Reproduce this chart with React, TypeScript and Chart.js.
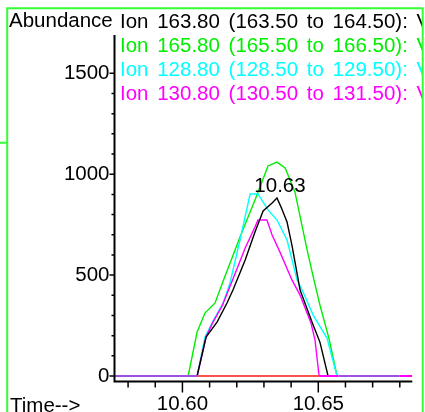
import React, { useEffect, useRef } from 'react';
import { Chart, registerables } from 'chart.js';

Chart.register(...registerables);

// ---- data (retention time in minutes, abundance) ----
const blackTimes = [10.6054, 10.6087, 10.6128, 10.6164, 10.6186, 10.6231, 10.6267, 10.6297, 10.633, 10.6348, 10.6363, 10.6385, 10.6403, 10.6433, 10.6481, 10.6506, 10.6536];
const blackAbund = [0, 193, 268, 362, 426, 575, 714, 818, 857, 882, 837, 763, 649, 426, 253, 168, 0];

const greenTimes = [10.6021, 10.6054, 10.6083, 10.612, 10.615, 10.6212, 10.6267, 10.6315, 10.6348, 10.6378, 10.6414, 10.6459, 10.6484, 10.6506, 10.6539, 10.6569];
const greenAbund = [0, 218, 312, 362, 471, 689, 872, 1041, 1060, 1031, 912, 624, 476, 352, 188, 0];

const cyanTimes = [10.6054, 10.6083, 10.6113, 10.615, 10.6175, 10.6212, 10.6249, 10.6278, 10.6315, 10.6348, 10.6385, 10.6422, 10.6444, 10.6481, 10.6532, 10.6569];
const cyanAbund = [0, 193, 273, 362, 461, 674, 902, 902, 823, 773, 674, 476, 416, 302, 188, 0];

const magentaTimes = [10.6054, 10.6087, 10.6113, 10.6146, 10.6183, 10.6231, 10.6267, 10.6278, 10.6311, 10.633, 10.6359, 10.6403, 10.6433, 10.6473, 10.6488, 10.6503];
const magentaAbund = [0, 193, 268, 347, 471, 634, 738, 773, 773, 699, 614, 476, 401, 263, 178, 0];

// zero-line segments (start time, end time) and their colours
const baseStarts = [10.575, 10.6054, 10.6503, 10.6574, 10.68];
const baseEnds = [10.6054, 10.6503, 10.6574, 10.68, 10.6846];
const baseColors = ['#a050e0', '#ff5050', '#ff00ff', '#a050e0', '#ff00ff'];

const legendLabels = [
  'Ion 163.80 (163.50 to 164.50): V',
  'Ion 165.80 (165.50 to 166.50): V',
  'Ion 128.80 (128.50 to 129.50): V',
  'Ion 130.80 (130.50 to 131.50): V',
];
const legendColors = ['#000000', '#00ee00', '#00ffff', '#ff00ff'];

const xTickValues = [10.58, 10.59, 10.6, 10.61, 10.62, 10.63, 10.64, 10.65, 10.66, 10.67, 10.68];
const xTickLabels = ['10.60', '10.65'];
const yTickValues = [0, 100, 200, 300, 400, 500, 600, 700, 800, 900, 1000, 1100, 1200, 1300, 1400, 1500];
const yTickLabels = ['0', '500', '1000', '1500'];
const peakLabel = '10.63';

const FONT = "'Liberation Sans', Arial, sans-serif";
const FONT_SIZE = 20.5;
const BORDER_GREEN = '#33ff33';

const toXY = (t: number[], a: number[]) => t.map((x, i) => ({ x, y: a[i] }));

const decor = {
  id: 'decor',
  afterDraw(chart: any) {
    const ctx: CanvasRenderingContext2D = chart.ctx;
    const { left, right, top, bottom } = chart.chartArea;
    const xs = chart.scales.x;
    const ys = chart.scales.y;
    ctx.save();
    ctx.strokeStyle = '#000';
    ctx.lineWidth = 2;
    ctx.beginPath();
    ctx.moveTo(left, top);
    ctx.lineTo(left, bottom);
    ctx.lineTo(right, bottom);
    ctx.stroke();
    ctx.lineWidth = 1.5;
    ctx.beginPath();
    yTickValues.forEach((v) => {
      const p = ys.getPixelForValue(v);
      const len = yTickLabels.includes(String(v)) ? 5 : 3;
      ctx.moveTo(left - len, p);
      ctx.lineTo(left, p);
    });
    xTickValues.forEach((v) => {
      const p = xs.getPixelForValue(v);
      const len = xTickLabels.includes(v.toFixed(2)) ? 11 : 6;
      ctx.moveTo(p, bottom);
      ctx.lineTo(p, bottom + len);
    });
    ctx.stroke();

    // texts
    ctx.font = `${FONT_SIZE}px ${FONT}`;
    ctx.textBaseline = 'alphabetic';
    ctx.textAlign = 'left';
    ctx.fillStyle = '#000';
    ctx.fillText('Abundance', 9, 27);
    ctx.fillText('Time-->', 10, 412);

    ctx.save();
    ctx.beginPath();
    ctx.rect(0, 0, 422, 412);
    ctx.clip();
    (ctx as any).wordSpacing = '3px';
    legendLabels.forEach((s, i) => {
      ctx.fillStyle = legendColors[i];
      ctx.fillText(s, 120, 27.5 + i * 24.3);
    });
    (ctx as any).wordSpacing = '0px';
    ctx.restore();

    // peak annotation at the black trace maximum
    let mi = 0;
    blackAbund.forEach((v, i) => { if (v > blackAbund[mi]) mi = i; });
    const px = xs.getPixelForValue(blackTimes[mi]);
    const py = ys.getPixelForValue(blackAbund[mi]);
    ctx.fillStyle = '#000';
    ctx.textAlign = 'center';
    ctx.fillText(peakLabel, px + 3, py - 6);

    // green frame
    ctx.strokeStyle = BORDER_GREEN;
    ctx.lineWidth = 2;
    ctx.beginPath();
    ctx.moveTo(7.2, 412);
    ctx.lineTo(7.2, 8.3);
    ctx.lineTo(422.7, 8.3);
    ctx.lineTo(422.7, 412);
    ctx.moveTo(0, 142.7);
    ctx.lineTo(7.2, 142.7);
    ctx.stroke();
    ctx.restore();
  },
};

export default function App() {
  const ref = useRef<HTMLCanvasElement>(null);
  useEffect(() => {
    const baseSets = baseStarts.map((s, i) => ({
      label: 'base' + i,
      data: [{ x: s, y: 0 }, { x: baseEnds[i], y: 0 }],
      borderColor: baseColors[i],
      borderWidth: 1.8,
    }));
    const chart = new Chart(ref.current as HTMLCanvasElement, {
      type: 'line',
      data: {
        datasets: [
          ...baseSets,
          { label: 'black', data: toXY(blackTimes, blackAbund), borderColor: '#000000', borderWidth: 1.4 },
          { label: 'magenta', data: toXY(magentaTimes, magentaAbund), borderColor: '#ff00ff', borderWidth: 1.4 },
          { label: 'cyan', data: toXY(cyanTimes, cyanAbund), borderColor: '#00ffff', borderWidth: 1.4 },
          { label: 'green', data: toXY(greenTimes, greenAbund), borderColor: '#00ee00', borderWidth: 1.4 },
        ] as any,
      },
      options: {
        animation: false,
        responsive: false,
        devicePixelRatio: 1,
        elements: { point: { radius: 0 }, line: { tension: 0, fill: false } },
        layout: { padding: { left: 0, top: 35, right: 12.7, bottom: 0 } },
        plugins: { legend: { display: false }, tooltip: { enabled: false } },
        scales: {
          x: {
            type: 'linear',
            min: 10.575,
            max: 10.6846,
            grid: { display: false, drawTicks: false },
            border: { display: false },
            afterBuildTicks: (s: any) => { s.ticks = xTickValues.map((v) => ({ value: v })); },
            afterFit: (s: any) => { s.height = 30.5; },
            ticks: {
              autoSkip: false,
              maxRotation: 0,
              padding: 11,
              color: '#000',
              font: { family: FONT, size: FONT_SIZE },
              callback: (v: any) => (xTickLabels.includes(Number(v).toFixed(2)) ? Number(v).toFixed(2) : ''),
            },
          },
          y: {
            type: 'linear',
            min: -27.3,
            max: 1690,
            grid: { display: false, drawTicks: false },
            border: { display: false },
            afterBuildTicks: (s: any) => { s.ticks = yTickValues.map((v) => ({ value: v })); },
            afterFit: (s: any) => { s.width = 114.5; },
            ticks: {
              autoSkip: false,
              padding: 5,
              color: '#000',
              font: { family: FONT, size: FONT_SIZE },
              callback: (v: any) => (yTickLabels.includes(String(v)) ? String(v) : ''),
            },
          },
        },
      } as any,
      plugins: [decor],
    });
    return () => chart.destroy();
  }, []);
  return (
    <div style={{ position: 'fixed', left: 0, top: 0, width: 425, height: 412, background: '#fff' }}>
      <canvas ref={ref} width={425} height={412} style={{ display: 'block' }} />
    </div>
  );
}
